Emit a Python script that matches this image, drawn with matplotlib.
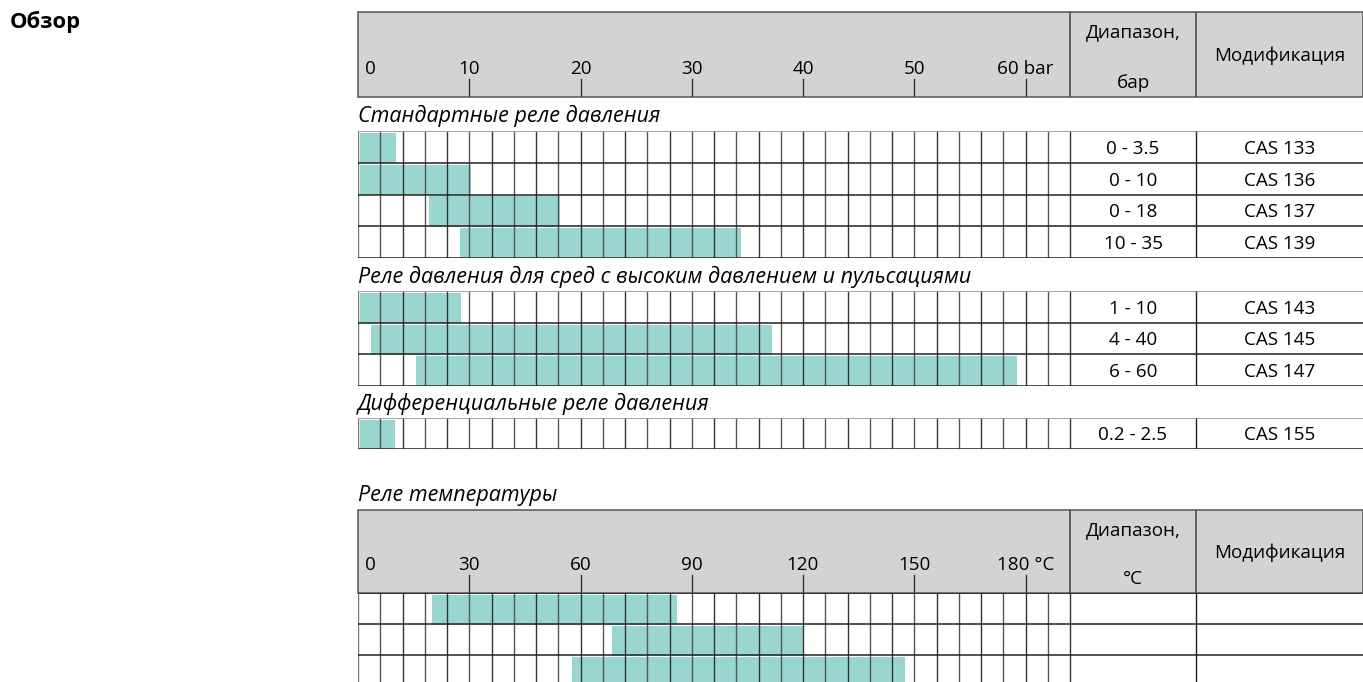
import matplotlib.pyplot as plt
from matplotlib.patches import Rectangle

plt.rcParams['font.family'] = ['Open Sans', 'DejaVu Sans']

# ---- data ----
bar_ticks = [0, 10, 20, 30, 40, 50, 60]
bar_tick_labels = ["0", "10", "20", "30", "40", "50", "60 bar"]
temp_ticks = [0, 30, 60, 90, 120, 150, 180]
temp_tick_labels = ["0", "30", "60", "90", "120", "150", "180 °C"]

std_models = ["CAS 133", "CAS 136", "CAS 137", "CAS 139"]
std_ranges = ["0 - 3.5", "0 - 10", "0 - 18", "10 - 35"]
std_start = [0.2, 0.2, 6.4, 9.2]
std_end = [3.4, 10.2, 18.2, 34.4]

hp_models = ["CAS 143", "CAS 145", "CAS 147"]
hp_ranges = ["1 - 10", "4 - 40", "6 - 60"]
hp_start = [0.2, 1.2, 5.2]
hp_end = [9.3, 37.2, 59.2]

diff_models = ["CAS 155"]
diff_ranges = ["0.2 - 2.5"]
diff_start = [0.2]
diff_end = [3.3]

temp_models = ["", "", ""]
temp_ranges = ["", "", ""]
temp_start = [20.0, 68.6, 57.7]
temp_end = [86.1, 120.2, 147.6]

# ---- layout (pixels) ----
W, H = 1363, 682
X0, XG, XC, X1 = 358, 1070, 1196, 1363
NCELLS = 32
TEAL = "#98d6cf"
GREY = "#d2d3d5"
FS = 13.6
FS_SEC = 15.5

fig = plt.figure(figsize=(W / 100, H / 100), dpi=100)


def axes_px(y0, y1):
    ax = fig.add_axes([X0 / W, 1 - y1 / H, (X1 - X0) / W, (y1 - y0) / H])
    ax.axis("off")
    return ax


def draw_header(y0, y1, cell, ticks, labels, unit):
    ax = axes_px(y0, y1)
    gmax = cell * NCELLS
    xmax = gmax * (X1 - X0) / (XG - X0)
    xc = gmax * (XC - X0) / (XG - X0)
    h = y1 - y0
    ax.set_xlim(0, xmax)
    ax.set_ylim(h, 0)
    ax.add_patch(Rectangle((0, 0), xmax, h, facecolor=GREY,
                           edgecolor="#555555", lw=1.1, clip_on=False))
    for t, lab in zip(ticks, labels):
        if t > 0:
            ax.plot([t, t], [h - 18, h], color="#333333", lw=1.0)
            ax.text(t, h - 28, lab, ha="center", va="center", fontsize=FS)
        else:
            ax.text(t + cell * 0.3, h - 28, lab, ha="left", va="center",
                    fontsize=FS)
    for xx in (gmax, xc):
        ax.plot([xx, xx], [0, h], color="#444444", lw=1.1)
    ax.text((gmax + xc) / 2, 20, "Диапазон,", ha="center", va="center",
            fontsize=FS)
    ax.text((gmax + xc) / 2, h - 14, unit, ha="center", va="center",
            fontsize=FS)
    ax.text((xc + xmax) / 2, h / 2 + 1, "Модификация", ha="center",
            va="center", fontsize=FS)


def draw_rows(y0, y1, cell, starts, ends, ranges, models, top_grey=True):
    ax = axes_px(y0, y1)
    n = len(starts)
    gmax = cell * NCELLS
    xmax = gmax * (X1 - X0) / (XG - X0)
    xc = gmax * (XC - X0) / (XG - X0)
    ax.set_xlim(0, xmax)
    ax.set_ylim(n, 0)
    widths = [e - s for s, e in zip(starts, ends)]
    ax.barh([i + 0.06 for i in range(n)], widths, left=starts, height=0.96,
            align="edge", color=TEAL, zorder=1)
    for k in range(NCELLS + 1):
        col = "#333333" if k % 2 == 0 else "#555555"
        if k == 0:
            col = "#777777"
        ax.plot([k * cell, k * cell], [0, n], color=col, lw=1.0, zorder=2,
                solid_capstyle="butt")
    ax.plot([xc, xc], [0, n], color="#222222", lw=1.0, zorder=2)
    for i in range(n + 1):
        col = "#8a8a8a" if (i == 0 and top_grey) else "#222222"
        ax.plot([0, xmax], [i, i], color=col, lw=1.1, zorder=3,
                solid_capstyle="butt")
    for i in range(n):
        ax.text((gmax + xc) / 2, i + 0.56, ranges[i], ha="center",
                va="center", fontsize=FS)
        ax.text((xc + xmax) / 2, i + 0.56, models[i], ha="center",
                va="center", fontsize=FS)


def section(y, text):
    fig.text(X0 / W, 1 - y / H, text, ha="left", va="center",
             fontsize=FS_SEC, style="italic")


fig.text(10 / W, 1 - 22 / H, "Обзор", ha="left", va="center",
         fontsize=15.8, fontweight="bold")

draw_header(12, 97, 2, bar_ticks, bar_tick_labels, "бар")
section(116, "Стандартные реле давления")
draw_rows(131, 258, 2, std_start, std_end, std_ranges, std_models)
section(277, "Реле давления для сред с высоким давлением и пульсациями")
draw_rows(291, 386, 2, hp_start, hp_end, hp_ranges, hp_models)
section(404, "Дифференциальные реле давления")
draw_rows(418, 449, 2, diff_start, diff_end, diff_ranges, diff_models)
section(496, "Реле температуры")
draw_header(510, 593, 6, temp_ticks, temp_tick_labels, "°C")
draw_rows(593, 686, 6, temp_start, temp_end, temp_ranges, temp_models,
          top_grey=False)

fig.savefig("out.png", dpi=100)
